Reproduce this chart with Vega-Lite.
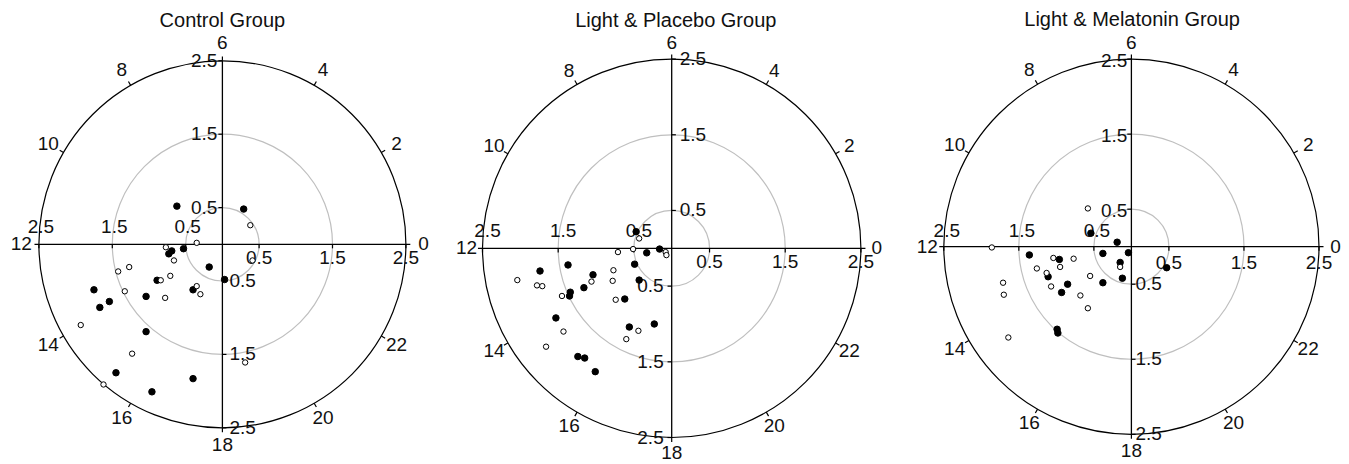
{
"$schema": "https://vega.github.io/schema/vega-lite/v6.json",
"padding": 0,
"spacing": 0,
"bounds": "flush",
"background": "white",
"config": {"view": {"stroke": null}, "text": {"font": "Liberation Sans"}},
"datasets": {
"rings": [{"r": 0.5, "c": "grid"}, {"r": 1.5, "c": "grid"}, {"r": 2.5, "c": "frame"}],
"hrs": [{"hour": 0}, {"hour": 2}, {"hour": 4}, {"hour": 6}, {"hour": 8}, {"hour": 10}, {"hour": 12}, {"hour": 14}, {"hour": 16}, {"hour": 18}, {"hour": 20}, {"hour": 22}],
"rpos": [{"v": 0.5}, {"v": 1.5}, {"v": 2.5}],
"rneg": [{"v": -0.5}, {"v": -1.5}, {"v": -2.5}],
"one": [{"n": 1}],
"pts": [
{"g": "C", "s": "filled", "x": -0.62, "y": 0.52},
{"g": "C", "s": "filled", "x": 0.29, "y": 0.48},
{"g": "C", "s": "filled", "x": -0.69, "y": -0.09},
{"g": "C", "s": "filled", "x": -0.73, "y": -0.13},
{"g": "C", "s": "filled", "x": -0.53, "y": -0.06},
{"g": "C", "s": "filled", "x": -0.18, "y": -0.31},
{"g": "C", "s": "filled", "x": 0.03, "y": -0.48},
{"g": "C", "s": "filled", "x": -0.89, "y": -0.49},
{"g": "C", "s": "filled", "x": -0.40, "y": -0.62},
{"g": "C", "s": "filled", "x": -1.75, "y": -0.62},
{"g": "C", "s": "filled", "x": -1.54, "y": -0.78},
{"g": "C", "s": "filled", "x": -1.67, "y": -0.86},
{"g": "C", "s": "filled", "x": -1.04, "y": -0.71},
{"g": "C", "s": "filled", "x": -1.04, "y": -1.19},
{"g": "C", "s": "filled", "x": -1.45, "y": -1.75},
{"g": "C", "s": "filled", "x": -0.40, "y": -1.83},
{"g": "C", "s": "filled", "x": -0.96, "y": -2.01},
{"g": "C", "s": "open", "x": 0.38, "y": 0.26},
{"g": "C", "s": "open", "x": -0.35, "y": 0.02},
{"g": "C", "s": "open", "x": -0.77, "y": -0.04},
{"g": "C", "s": "open", "x": -0.66, "y": -0.22},
{"g": "C", "s": "open", "x": 0.41, "y": -0.22},
{"g": "C", "s": "open", "x": -1.27, "y": -0.31},
{"g": "C", "s": "open", "x": -1.42, "y": -0.37},
{"g": "C", "s": "open", "x": -0.71, "y": -0.43},
{"g": "C", "s": "open", "x": -0.84, "y": -0.49},
{"g": "C", "s": "open", "x": -0.35, "y": -0.57},
{"g": "C", "s": "open", "x": -0.30, "y": -0.68},
{"g": "C", "s": "open", "x": -1.33, "y": -0.64},
{"g": "C", "s": "open", "x": -0.78, "y": -0.73},
{"g": "C", "s": "open", "x": -1.93, "y": -1.10},
{"g": "C", "s": "open", "x": -1.23, "y": -1.49},
{"g": "C", "s": "open", "x": 0.31, "y": -1.61},
{"g": "C", "s": "open", "x": -1.62, "y": -1.91},
{"g": "P", "s": "filled", "x": -0.47, "y": 0.22},
{"g": "P", "s": "filled", "x": -0.33, "y": -0.06},
{"g": "P", "s": "filled", "x": -0.16, "y": -0.01},
{"g": "P", "s": "filled", "x": -0.49, "y": -0.21},
{"g": "P", "s": "filled", "x": -0.43, "y": -0.42},
{"g": "P", "s": "filled", "x": -0.62, "y": -0.67},
{"g": "P", "s": "filled", "x": -1.37, "y": -0.22},
{"g": "P", "s": "filled", "x": -1.74, "y": -0.30},
{"g": "P", "s": "filled", "x": -1.04, "y": -0.35},
{"g": "P", "s": "filled", "x": -1.16, "y": -0.52},
{"g": "P", "s": "filled", "x": -1.34, "y": -0.58},
{"g": "P", "s": "filled", "x": -1.35, "y": -0.63},
{"g": "P", "s": "filled", "x": -1.53, "y": -0.92},
{"g": "P", "s": "filled", "x": -0.56, "y": -1.04},
{"g": "P", "s": "filled", "x": -0.23, "y": -1.00},
{"g": "P", "s": "filled", "x": -1.24, "y": -1.43},
{"g": "P", "s": "filled", "x": -1.15, "y": -1.45},
{"g": "P", "s": "filled", "x": -1.01, "y": -1.63},
{"g": "P", "s": "open", "x": -0.43, "y": 0.13},
{"g": "P", "s": "open", "x": -0.71, "y": -0.05},
{"g": "P", "s": "open", "x": -0.51, "y": -0.01},
{"g": "P", "s": "open", "x": -0.08, "y": -0.05},
{"g": "P", "s": "open", "x": -0.07, "y": -0.09},
{"g": "P", "s": "open", "x": -0.77, "y": -0.29},
{"g": "P", "s": "open", "x": -0.78, "y": -0.43},
{"g": "P", "s": "open", "x": -0.74, "y": -0.68},
{"g": "P", "s": "open", "x": -2.04, "y": -0.42},
{"g": "P", "s": "open", "x": -1.78, "y": -0.49},
{"g": "P", "s": "open", "x": -1.71, "y": -0.50},
{"g": "P", "s": "open", "x": -1.06, "y": -0.44},
{"g": "P", "s": "open", "x": -1.45, "y": -0.63},
{"g": "P", "s": "open", "x": -1.43, "y": -1.10},
{"g": "P", "s": "open", "x": -1.66, "y": -1.30},
{"g": "P", "s": "open", "x": -0.44, "y": -1.09},
{"g": "P", "s": "open", "x": -0.60, "y": -1.20},
{"g": "M", "s": "filled", "x": -0.54, "y": 0.18},
{"g": "M", "s": "filled", "x": -0.19, "y": 0.06},
{"g": "M", "s": "filled", "x": -1.36, "y": -0.11},
{"g": "M", "s": "filled", "x": -0.96, "y": -0.17},
{"g": "M", "s": "filled", "x": -0.38, "y": -0.09},
{"g": "M", "s": "filled", "x": -0.04, "y": -0.08},
{"g": "M", "s": "filled", "x": -1.11, "y": -0.40},
{"g": "M", "s": "filled", "x": -0.15, "y": -0.21},
{"g": "M", "s": "filled", "x": 0.47, "y": -0.28},
{"g": "M", "s": "filled", "x": -0.12, "y": -0.42},
{"g": "M", "s": "filled", "x": -0.38, "y": -0.48},
{"g": "M", "s": "filled", "x": -0.85, "y": -0.50},
{"g": "M", "s": "filled", "x": -0.93, "y": -0.61},
{"g": "M", "s": "filled", "x": -0.99, "y": -1.10},
{"g": "M", "s": "filled", "x": -0.98, "y": -1.15},
{"g": "M", "s": "open", "x": -0.58, "y": 0.51},
{"g": "M", "s": "open", "x": -1.86, "y": -0.01},
{"g": "M", "s": "open", "x": -1.04, "y": -0.15},
{"g": "M", "s": "open", "x": -0.77, "y": -0.16},
{"g": "M", "s": "open", "x": -0.95, "y": -0.27},
{"g": "M", "s": "open", "x": -1.26, "y": -0.29},
{"g": "M", "s": "open", "x": -1.13, "y": -0.35},
{"g": "M", "s": "open", "x": -0.15, "y": -0.27},
{"g": "M", "s": "open", "x": -0.55, "y": -0.39},
{"g": "M", "s": "open", "x": -1.71, "y": -0.48},
{"g": "M", "s": "open", "x": -1.07, "y": -0.53},
{"g": "M", "s": "open", "x": -1.70, "y": -0.64},
{"g": "M", "s": "open", "x": -0.68, "y": -0.65},
{"g": "M", "s": "open", "x": -0.58, "y": -0.82},
{"g": "M", "s": "open", "x": -1.64, "y": -1.21}
]
},
"hconcat": [
{
"width": 447, "height": 464,
"layer": [
{"data": {"name": "rings"}, "mark": {"type": "arc", "filled": false, "strokeWidth": 1.2, "theta": 0, "theta2": 6.2832},
 "encoding": {"x": {"datum": 0, "type": "quantitative", "scale": {"domain": [-3.03, 3.0599], "nice": false, "zero": false}, "axis": null},
  "y": {"datum": 0, "type": "quantitative", "scale": {"domain": [-2.9932, 3.3283], "nice": false, "zero": false}, "axis": null},
  "radius": {"field": "r", "type": "quantitative", "stack": null, "scale": {"type": "linear", "domain": [0, 2.5], "range": [0, 183.5], "nice": false}},
  "stroke": {"field": "c", "type": "nominal", "scale": {"domain": ["grid", "frame"], "range": ["#bfbfbf", "#000000"]}, "legend": null}}},
{"data": {"name": "one"}, "mark": {"type": "rule", "color": "#000", "strokeWidth": 1.3},
 "encoding": {"x": {"datum": -2.5, "type": "quantitative", "scale": {"domain": [-3.03, 3.0599], "nice": false, "zero": false}, "axis": null}, "x2": {"datum": 2.5},
  "y": {"datum": 0, "type": "quantitative", "scale": {"domain": [-2.9932, 3.3283], "nice": false, "zero": false}, "axis": null}}},
{"data": {"name": "one"}, "mark": {"type": "rule", "color": "#000", "strokeWidth": 1.3},
 "encoding": {"y": {"datum": -2.5, "type": "quantitative", "scale": {"domain": [-2.9932, 3.3283], "nice": false, "zero": false}, "axis": null}, "y2": {"datum": 2.5},
  "x": {"datum": 0, "type": "quantitative", "scale": {"domain": [-3.03, 3.0599], "nice": false, "zero": false}, "axis": null}}},
{"data": {"name": "hrs"}, "mark": {"type": "arc", "filled": false, "stroke": "#000", "strokeWidth": 1.2},
 "encoding": {"x": {"datum": 0, "type": "quantitative", "scale": {"domain": [-3.03, 3.0599], "nice": false, "zero": false}, "axis": null},
  "y": {"datum": 0, "type": "quantitative", "scale": {"domain": [-2.9932, 3.3283], "nice": false, "zero": false}, "axis": null},
  "theta": {"field": "hour", "type": "quantitative", "stack": null, "scale": {"type": "linear", "domain": [0, 24], "range": [1.5708, -4.7124], "zero": false, "nice": false}},
  "theta2": {"field": "hour"},
  "radius": {"datum": 2.5, "type": "quantitative", "scale": {"type": "linear", "domain": [0, 2.5], "range": [0, 183.5], "nice": false}},
  "radius2": {"datum": 2.56}}},
{"data": {"name": "rpos"}, "mark": {"type": "rule", "color": "#000", "strokeWidth": 1.2},
 "encoding": {"y": {"field": "v", "type": "quantitative", "scale": {"domain": [-2.9932, 3.3283], "nice": false, "zero": false}, "axis": null},
  "x": {"datum": -0.055, "type": "quantitative", "scale": {"domain": [-3.03, 3.0599], "nice": false, "zero": false}, "axis": null}, "x2": {"datum": 0}}},
{"data": {"name": "rneg"}, "mark": {"type": "rule", "color": "#000", "strokeWidth": 1.2},
 "encoding": {"y": {"field": "v", "type": "quantitative", "scale": {"domain": [-2.9932, 3.3283], "nice": false, "zero": false}, "axis": null},
  "x": {"datum": 0, "type": "quantitative", "scale": {"domain": [-3.03, 3.0599], "nice": false, "zero": false}, "axis": null}, "x2": {"datum": 0.055}}},
{"data": {"name": "rpos"}, "mark": {"type": "rule", "color": "#000", "strokeWidth": 1.2},
 "encoding": {"x": {"field": "v", "type": "quantitative", "scale": {"domain": [-3.03, 3.0599], "nice": false, "zero": false}, "axis": null},
  "y": {"datum": 0, "type": "quantitative", "scale": {"domain": [-2.9932, 3.3283], "nice": false, "zero": false}, "axis": null}, "y2": {"datum": -0.055}}},
{"data": {"name": "rneg"}, "mark": {"type": "rule", "color": "#000", "strokeWidth": 1.2},
 "encoding": {"x": {"field": "v", "type": "quantitative", "scale": {"domain": [-3.03, 3.0599], "nice": false, "zero": false}, "axis": null},
  "y": {"datum": 0, "type": "quantitative", "scale": {"domain": [-2.9932, 3.3283], "nice": false, "zero": false}, "axis": null}, "y2": {"datum": -0.055}}},
{"data": {"name": "hrs"}, "mark": {"type": "text", "fontSize": 19, "align": "center", "baseline": "middle", "color": "#111"},
 "encoding": {"x": {"datum": 0, "type": "quantitative", "scale": {"domain": [-3.03, 3.0599], "nice": false, "zero": false}, "axis": null},
  "y": {"datum": 0, "type": "quantitative", "scale": {"domain": [-2.9932, 3.3283], "nice": false, "zero": false}, "axis": null},
  "theta": {"field": "hour", "type": "quantitative", "stack": null, "scale": {"type": "linear", "domain": [0, 24], "range": [1.5708, -4.7124], "zero": false, "nice": false}},
  "radius": {"datum": 2.74, "type": "quantitative", "scale": {"type": "linear", "domain": [0, 2.5], "range": [0, 183.5], "nice": false}},
  "text": {"field": "hour", "type": "quantitative", "format": "d"}}},
{"data": {"name": "rpos"}, "mark": {"type": "text", "fontSize": 19, "align": "right", "baseline": "middle", "dx": -5, "color": "#111"},
 "encoding": {"x": {"datum": 0, "type": "quantitative", "scale": {"domain": [-3.03, 3.0599], "nice": false, "zero": false}, "axis": null},
  "y": {"datum": 0, "type": "quantitative", "scale": {"domain": [-2.9932, 3.3283], "nice": false, "zero": false}, "axis": null},
  "theta": {"datum": 6, "type": "quantitative", "scale": {"type": "linear", "domain": [0, 24], "range": [1.5708, -4.7124], "zero": false, "nice": false}},
  "radius": {"field": "v", "type": "quantitative", "stack": null, "scale": {"type": "linear", "domain": [0, 2.5], "range": [0, 183.5], "nice": false}},
  "text": {"field": "v", "type": "quantitative", "format": ".1f"}}},
{"data": {"name": "rpos"}, "mark": {"type": "text", "fontSize": 19, "align": "center", "baseline": "top", "dy": 5, "color": "#111"},
 "encoding": {"x": {"datum": 0, "type": "quantitative", "scale": {"domain": [-3.03, 3.0599], "nice": false, "zero": false}, "axis": null},
  "y": {"datum": 0, "type": "quantitative", "scale": {"domain": [-2.9932, 3.3283], "nice": false, "zero": false}, "axis": null},
  "theta": {"datum": 0, "type": "quantitative", "scale": {"type": "linear", "domain": [0, 24], "range": [1.5708, -4.7124], "zero": false, "nice": false}},
  "radius": {"field": "v", "type": "quantitative", "stack": null, "scale": {"type": "linear", "domain": [0, 2.5], "range": [0, 183.5], "nice": false}},
  "text": {"field": "v", "type": "quantitative", "format": ".1f"}}},
{"data": {"name": "rpos"}, "mark": {"type": "text", "fontSize": 19, "align": "center", "baseline": "bottom", "dy": -7, "dx": 2, "color": "#111"},
 "encoding": {"x": {"datum": 0, "type": "quantitative", "scale": {"domain": [-3.03, 3.0599], "nice": false, "zero": false}, "axis": null},
  "y": {"datum": 0, "type": "quantitative", "scale": {"domain": [-2.9932, 3.3283], "nice": false, "zero": false}, "axis": null},
  "theta": {"datum": 12, "type": "quantitative", "scale": {"type": "linear", "domain": [0, 24], "range": [1.5708, -4.7124], "zero": false, "nice": false}},
  "radius": {"field": "v", "type": "quantitative", "stack": null, "scale": {"type": "linear", "domain": [0, 2.5], "range": [0, 183.5], "nice": false}},
  "text": {"field": "v", "type": "quantitative", "format": ".1f"}}},
{"data": {"name": "rpos"}, "mark": {"type": "text", "fontSize": 19, "align": "left", "baseline": "middle", "dx": 7, "color": "#111"},
 "encoding": {"x": {"datum": 0, "type": "quantitative", "scale": {"domain": [-3.03, 3.0599], "nice": false, "zero": false}, "axis": null},
  "y": {"datum": 0, "type": "quantitative", "scale": {"domain": [-2.9932, 3.3283], "nice": false, "zero": false}, "axis": null},
  "theta": {"datum": 18, "type": "quantitative", "scale": {"type": "linear", "domain": [0, 24], "range": [1.5708, -4.7124], "zero": false, "nice": false}},
  "radius": {"field": "v", "type": "quantitative", "stack": null, "scale": {"type": "linear", "domain": [0, 2.5], "range": [0, 183.5], "nice": false}},
  "text": {"field": "v", "type": "quantitative", "format": ".1f"}}},
{"data": {"name": "pts"}, "transform": [{"filter": "datum.g === 'C'"}],
 "mark": {"type": "point", "shape": "circle", "filled": true, "stroke": "#000", "strokeWidth": 1, "opacity": 1},
 "encoding": {"x": {"field": "x", "type": "quantitative", "scale": {"domain": [-3.03, 3.0599], "nice": false, "zero": false}, "axis": null},
  "y": {"field": "y", "type": "quantitative", "scale": {"domain": [-2.9932, 3.3283], "nice": false, "zero": false}, "axis": null},
  "fill": {"field": "s", "type": "nominal", "scale": {"domain": ["filled", "open"], "range": ["#000000", "#ffffff"]}, "legend": null},
  "size": {"field": "s", "type": "ordinal", "scale": {"domain": ["filled", "open"], "range": [42, 29]}, "legend": null}}},
{"data": {"name": "one"}, "mark": {"type": "text", "fontSize": 20, "align": "center", "baseline": "alphabetic", "color": "#111"},
 "encoding": {"x": {"datum": 0, "type": "quantitative", "scale": {"domain": [-3.03, 3.0599], "nice": false, "zero": false}, "axis": null},
  "y": {"datum": 2.965, "type": "quantitative", "scale": {"domain": [-2.9932, 3.3283], "nice": false, "zero": false}, "axis": null},
  "text": {"value": "Control Group"}}}
]
},
{
"width": 456, "height": 464,
"layer": [
{"data": {"name": "rings"}, "mark": {"type": "arc", "filled": false, "strokeWidth": 1.2, "theta": 0, "theta2": 6.2832},
 "encoding": {"x": {"datum": 0, "type": "quantitative", "scale": {"domain": [-2.9691, 3.0563], "nice": false, "zero": false}, "axis": null},
  "y": {"datum": 0, "type": "quantitative", "scale": {"domain": [-2.8501, 3.2809], "nice": false, "zero": false}, "axis": null},
  "radius": {"field": "r", "type": "quantitative", "stack": null, "scale": {"type": "linear", "domain": [0, 2.5], "range": [0, 189.2], "nice": false}},
  "stroke": {"field": "c", "type": "nominal", "scale": {"domain": ["grid", "frame"], "range": ["#bfbfbf", "#000000"]}, "legend": null}}},
{"data": {"name": "one"}, "mark": {"type": "rule", "color": "#000", "strokeWidth": 1.3},
 "encoding": {"x": {"datum": -2.5, "type": "quantitative", "scale": {"domain": [-2.9691, 3.0563], "nice": false, "zero": false}, "axis": null}, "x2": {"datum": 2.5},
  "y": {"datum": 0, "type": "quantitative", "scale": {"domain": [-2.8501, 3.2809], "nice": false, "zero": false}, "axis": null}}},
{"data": {"name": "one"}, "mark": {"type": "rule", "color": "#000", "strokeWidth": 1.3},
 "encoding": {"y": {"datum": -2.5, "type": "quantitative", "scale": {"domain": [-2.8501, 3.2809], "nice": false, "zero": false}, "axis": null}, "y2": {"datum": 2.5},
  "x": {"datum": 0, "type": "quantitative", "scale": {"domain": [-2.9691, 3.0563], "nice": false, "zero": false}, "axis": null}}},
{"data": {"name": "hrs"}, "mark": {"type": "arc", "filled": false, "stroke": "#000", "strokeWidth": 1.2},
 "encoding": {"x": {"datum": 0, "type": "quantitative", "scale": {"domain": [-2.9691, 3.0563], "nice": false, "zero": false}, "axis": null},
  "y": {"datum": 0, "type": "quantitative", "scale": {"domain": [-2.8501, 3.2809], "nice": false, "zero": false}, "axis": null},
  "theta": {"field": "hour", "type": "quantitative", "stack": null, "scale": {"type": "linear", "domain": [0, 24], "range": [1.5708, -4.7124], "zero": false, "nice": false}},
  "theta2": {"field": "hour"},
  "radius": {"datum": 2.5, "type": "quantitative", "scale": {"type": "linear", "domain": [0, 2.5], "range": [0, 189.2], "nice": false}},
  "radius2": {"datum": 2.56}}},
{"data": {"name": "rpos"}, "mark": {"type": "rule", "color": "#000", "strokeWidth": 1.2},
 "encoding": {"y": {"field": "v", "type": "quantitative", "scale": {"domain": [-2.8501, 3.2809], "nice": false, "zero": false}, "axis": null},
  "x": {"datum": 0, "type": "quantitative", "scale": {"domain": [-2.9691, 3.0563], "nice": false, "zero": false}, "axis": null}, "x2": {"datum": 0.055}}},
{"data": {"name": "rneg"}, "mark": {"type": "rule", "color": "#000", "strokeWidth": 1.2},
 "encoding": {"y": {"field": "v", "type": "quantitative", "scale": {"domain": [-2.8501, 3.2809], "nice": false, "zero": false}, "axis": null},
  "x": {"datum": -0.055, "type": "quantitative", "scale": {"domain": [-2.9691, 3.0563], "nice": false, "zero": false}, "axis": null}, "x2": {"datum": 0}}},
{"data": {"name": "rpos"}, "mark": {"type": "rule", "color": "#000", "strokeWidth": 1.2},
 "encoding": {"x": {"field": "v", "type": "quantitative", "scale": {"domain": [-2.9691, 3.0563], "nice": false, "zero": false}, "axis": null},
  "y": {"datum": 0, "type": "quantitative", "scale": {"domain": [-2.8501, 3.2809], "nice": false, "zero": false}, "axis": null}, "y2": {"datum": -0.055}}},
{"data": {"name": "rneg"}, "mark": {"type": "rule", "color": "#000", "strokeWidth": 1.2},
 "encoding": {"x": {"field": "v", "type": "quantitative", "scale": {"domain": [-2.9691, 3.0563], "nice": false, "zero": false}, "axis": null},
  "y": {"datum": 0, "type": "quantitative", "scale": {"domain": [-2.8501, 3.2809], "nice": false, "zero": false}, "axis": null}, "y2": {"datum": -0.055}}},
{"data": {"name": "hrs"}, "mark": {"type": "text", "fontSize": 19, "align": "center", "baseline": "middle", "color": "#111"},
 "encoding": {"x": {"datum": 0, "type": "quantitative", "scale": {"domain": [-2.9691, 3.0563], "nice": false, "zero": false}, "axis": null},
  "y": {"datum": 0, "type": "quantitative", "scale": {"domain": [-2.8501, 3.2809], "nice": false, "zero": false}, "axis": null},
  "theta": {"field": "hour", "type": "quantitative", "stack": null, "scale": {"type": "linear", "domain": [0, 24], "range": [1.5708, -4.7124], "zero": false, "nice": false}},
  "radius": {"datum": 2.71, "type": "quantitative", "scale": {"type": "linear", "domain": [0, 2.5], "range": [0, 189.2], "nice": false}},
  "text": {"field": "hour", "type": "quantitative", "format": "d"}}},
{"data": {"name": "rpos"}, "mark": {"type": "text", "fontSize": 19, "align": "left", "baseline": "middle", "dx": 8, "color": "#111"},
 "encoding": {"x": {"datum": 0, "type": "quantitative", "scale": {"domain": [-2.9691, 3.0563], "nice": false, "zero": false}, "axis": null},
  "y": {"datum": 0, "type": "quantitative", "scale": {"domain": [-2.8501, 3.2809], "nice": false, "zero": false}, "axis": null},
  "theta": {"datum": 6, "type": "quantitative", "scale": {"type": "linear", "domain": [0, 24], "range": [1.5708, -4.7124], "zero": false, "nice": false}},
  "radius": {"field": "v", "type": "quantitative", "stack": null, "scale": {"type": "linear", "domain": [0, 2.5], "range": [0, 189.2], "nice": false}},
  "text": {"field": "v", "type": "quantitative", "format": ".1f"}}},
{"data": {"name": "rpos"}, "mark": {"type": "text", "fontSize": 19, "align": "center", "baseline": "top", "dy": 5, "color": "#111"},
 "encoding": {"x": {"datum": 0, "type": "quantitative", "scale": {"domain": [-2.9691, 3.0563], "nice": false, "zero": false}, "axis": null},
  "y": {"datum": 0, "type": "quantitative", "scale": {"domain": [-2.8501, 3.2809], "nice": false, "zero": false}, "axis": null},
  "theta": {"datum": 0, "type": "quantitative", "scale": {"type": "linear", "domain": [0, 24], "range": [1.5708, -4.7124], "zero": false, "nice": false}},
  "radius": {"field": "v", "type": "quantitative", "stack": null, "scale": {"type": "linear", "domain": [0, 2.5], "range": [0, 189.2], "nice": false}},
  "text": {"field": "v", "type": "quantitative", "format": ".1f"}}},
{"data": {"name": "rpos"}, "mark": {"type": "text", "fontSize": 19, "align": "center", "baseline": "bottom", "dy": -7, "dx": 5, "color": "#111"},
 "encoding": {"x": {"datum": 0, "type": "quantitative", "scale": {"domain": [-2.9691, 3.0563], "nice": false, "zero": false}, "axis": null},
  "y": {"datum": 0, "type": "quantitative", "scale": {"domain": [-2.8501, 3.2809], "nice": false, "zero": false}, "axis": null},
  "theta": {"datum": 12, "type": "quantitative", "scale": {"type": "linear", "domain": [0, 24], "range": [1.5708, -4.7124], "zero": false, "nice": false}},
  "radius": {"field": "v", "type": "quantitative", "stack": null, "scale": {"type": "linear", "domain": [0, 2.5], "range": [0, 189.2], "nice": false}},
  "text": {"field": "v", "type": "quantitative", "format": ".1f"}}},
{"data": {"name": "rpos"}, "mark": {"type": "text", "fontSize": 19, "align": "right", "baseline": "middle", "dx": -8, "color": "#111"},
 "encoding": {"x": {"datum": 0, "type": "quantitative", "scale": {"domain": [-2.9691, 3.0563], "nice": false, "zero": false}, "axis": null},
  "y": {"datum": 0, "type": "quantitative", "scale": {"domain": [-2.8501, 3.2809], "nice": false, "zero": false}, "axis": null},
  "theta": {"datum": 18, "type": "quantitative", "scale": {"type": "linear", "domain": [0, 24], "range": [1.5708, -4.7124], "zero": false, "nice": false}},
  "radius": {"field": "v", "type": "quantitative", "stack": null, "scale": {"type": "linear", "domain": [0, 2.5], "range": [0, 189.2], "nice": false}},
  "text": {"field": "v", "type": "quantitative", "format": ".1f"}}},
{"data": {"name": "pts"}, "transform": [{"filter": "datum.g === 'P'"}],
 "mark": {"type": "point", "shape": "circle", "filled": true, "stroke": "#000", "strokeWidth": 1, "opacity": 1},
 "encoding": {"x": {"field": "x", "type": "quantitative", "scale": {"domain": [-2.9691, 3.0563], "nice": false, "zero": false}, "axis": null},
  "y": {"field": "y", "type": "quantitative", "scale": {"domain": [-2.8501, 3.2809], "nice": false, "zero": false}, "axis": null},
  "fill": {"field": "s", "type": "nominal", "scale": {"domain": ["filled", "open"], "range": ["#000000", "#ffffff"]}, "legend": null},
  "size": {"field": "s", "type": "ordinal", "scale": {"domain": ["filled", "open"], "range": [42, 29]}, "legend": null}}},
{"data": {"name": "one"}, "mark": {"type": "text", "fontSize": 20, "align": "center", "baseline": "alphabetic", "color": "#111"},
 "encoding": {"x": {"datum": 0.054, "type": "quantitative", "scale": {"domain": [-2.9691, 3.0563], "nice": false, "zero": false}, "axis": null},
  "y": {"datum": 2.928, "type": "quantitative", "scale": {"domain": [-2.8501, 3.2809], "nice": false, "zero": false}, "axis": null},
  "text": {"value": "Light & Placebo Group"}}}
]
},
{
"width": 446, "height": 464,
"layer": [
{"data": {"name": "rings"}, "mark": {"type": "arc", "filled": false, "strokeWidth": 1.2, "theta": 0, "theta2": 6.2832},
 "encoding": {"x": {"datum": 0, "type": "quantitative", "scale": {"domain": [-3.0437, 2.8998], "nice": false, "zero": false}, "axis": null},
  "y": {"datum": 0, "type": "quantitative", "scale": {"domain": [-2.8958, 3.2876], "nice": false, "zero": false}, "axis": null},
  "radius": {"field": "r", "type": "quantitative", "stack": null, "scale": {"type": "linear", "domain": [0, 2.5], "range": [0, 187.6], "nice": false}},
  "stroke": {"field": "c", "type": "nominal", "scale": {"domain": ["grid", "frame"], "range": ["#bfbfbf", "#000000"]}, "legend": null}}},
{"data": {"name": "one"}, "mark": {"type": "rule", "color": "#000", "strokeWidth": 1.3},
 "encoding": {"x": {"datum": -2.5, "type": "quantitative", "scale": {"domain": [-3.0437, 2.8998], "nice": false, "zero": false}, "axis": null}, "x2": {"datum": 2.5},
  "y": {"datum": 0, "type": "quantitative", "scale": {"domain": [-2.8958, 3.2876], "nice": false, "zero": false}, "axis": null}}},
{"data": {"name": "one"}, "mark": {"type": "rule", "color": "#000", "strokeWidth": 1.3},
 "encoding": {"y": {"datum": -2.5, "type": "quantitative", "scale": {"domain": [-2.8958, 3.2876], "nice": false, "zero": false}, "axis": null}, "y2": {"datum": 2.5},
  "x": {"datum": 0, "type": "quantitative", "scale": {"domain": [-3.0437, 2.8998], "nice": false, "zero": false}, "axis": null}}},
{"data": {"name": "hrs"}, "mark": {"type": "arc", "filled": false, "stroke": "#000", "strokeWidth": 1.2},
 "encoding": {"x": {"datum": 0, "type": "quantitative", "scale": {"domain": [-3.0437, 2.8998], "nice": false, "zero": false}, "axis": null},
  "y": {"datum": 0, "type": "quantitative", "scale": {"domain": [-2.8958, 3.2876], "nice": false, "zero": false}, "axis": null},
  "theta": {"field": "hour", "type": "quantitative", "stack": null, "scale": {"type": "linear", "domain": [0, 24], "range": [1.5708, -4.7124], "zero": false, "nice": false}},
  "theta2": {"field": "hour"},
  "radius": {"datum": 2.5, "type": "quantitative", "scale": {"type": "linear", "domain": [0, 2.5], "range": [0, 187.6], "nice": false}},
  "radius2": {"datum": 2.56}}},
{"data": {"name": "rpos"}, "mark": {"type": "rule", "color": "#000", "strokeWidth": 1.2},
 "encoding": {"y": {"field": "v", "type": "quantitative", "scale": {"domain": [-2.8958, 3.2876], "nice": false, "zero": false}, "axis": null},
  "x": {"datum": -0.055, "type": "quantitative", "scale": {"domain": [-3.0437, 2.8998], "nice": false, "zero": false}, "axis": null}, "x2": {"datum": 0}}},
{"data": {"name": "rneg"}, "mark": {"type": "rule", "color": "#000", "strokeWidth": 1.2},
 "encoding": {"y": {"field": "v", "type": "quantitative", "scale": {"domain": [-2.8958, 3.2876], "nice": false, "zero": false}, "axis": null},
  "x": {"datum": 0, "type": "quantitative", "scale": {"domain": [-3.0437, 2.8998], "nice": false, "zero": false}, "axis": null}, "x2": {"datum": 0.055}}},
{"data": {"name": "rpos"}, "mark": {"type": "rule", "color": "#000", "strokeWidth": 1.2},
 "encoding": {"x": {"field": "v", "type": "quantitative", "scale": {"domain": [-3.0437, 2.8998], "nice": false, "zero": false}, "axis": null},
  "y": {"datum": 0, "type": "quantitative", "scale": {"domain": [-2.8958, 3.2876], "nice": false, "zero": false}, "axis": null}, "y2": {"datum": -0.055}}},
{"data": {"name": "rneg"}, "mark": {"type": "rule", "color": "#000", "strokeWidth": 1.2},
 "encoding": {"x": {"field": "v", "type": "quantitative", "scale": {"domain": [-3.0437, 2.8998], "nice": false, "zero": false}, "axis": null},
  "y": {"datum": 0, "type": "quantitative", "scale": {"domain": [-2.8958, 3.2876], "nice": false, "zero": false}, "axis": null}, "y2": {"datum": -0.055}}},
{"data": {"name": "hrs"}, "mark": {"type": "text", "fontSize": 19, "align": "center", "baseline": "middle", "color": "#111"},
 "encoding": {"x": {"datum": 0, "type": "quantitative", "scale": {"domain": [-3.0437, 2.8998], "nice": false, "zero": false}, "axis": null},
  "y": {"datum": 0, "type": "quantitative", "scale": {"domain": [-2.8958, 3.2876], "nice": false, "zero": false}, "axis": null},
  "theta": {"field": "hour", "type": "quantitative", "stack": null, "scale": {"type": "linear", "domain": [0, 24], "range": [1.5708, -4.7124], "zero": false, "nice": false}},
  "radius": {"datum": 2.72, "type": "quantitative", "scale": {"type": "linear", "domain": [0, 2.5], "range": [0, 187.6], "nice": false}},
  "text": {"field": "hour", "type": "quantitative", "format": "d"}}},
{"data": {"name": "rpos"}, "mark": {"type": "text", "fontSize": 19, "align": "right", "baseline": "middle", "dx": -4, "dy": 2, "color": "#111"},
 "encoding": {"x": {"datum": 0, "type": "quantitative", "scale": {"domain": [-3.0437, 2.8998], "nice": false, "zero": false}, "axis": null},
  "y": {"datum": 0, "type": "quantitative", "scale": {"domain": [-2.8958, 3.2876], "nice": false, "zero": false}, "axis": null},
  "theta": {"datum": 6, "type": "quantitative", "scale": {"type": "linear", "domain": [0, 24], "range": [1.5708, -4.7124], "zero": false, "nice": false}},
  "radius": {"field": "v", "type": "quantitative", "stack": null, "scale": {"type": "linear", "domain": [0, 2.5], "range": [0, 187.6], "nice": false}},
  "text": {"field": "v", "type": "quantitative", "format": ".1f"}}},
{"data": {"name": "rpos"}, "mark": {"type": "text", "fontSize": 19, "align": "center", "baseline": "top", "dy": 7, "color": "#111"},
 "encoding": {"x": {"datum": 0, "type": "quantitative", "scale": {"domain": [-3.0437, 2.8998], "nice": false, "zero": false}, "axis": null},
  "y": {"datum": 0, "type": "quantitative", "scale": {"domain": [-2.8958, 3.2876], "nice": false, "zero": false}, "axis": null},
  "theta": {"datum": 0, "type": "quantitative", "scale": {"type": "linear", "domain": [0, 24], "range": [1.5708, -4.7124], "zero": false, "nice": false}},
  "radius": {"field": "v", "type": "quantitative", "stack": null, "scale": {"type": "linear", "domain": [0, 2.5], "range": [0, 187.6], "nice": false}},
  "text": {"field": "v", "type": "quantitative", "format": ".1f"}}},
{"data": {"name": "rpos"}, "mark": {"type": "text", "fontSize": 19, "align": "center", "baseline": "bottom", "dy": -6, "dx": 3, "color": "#111"},
 "encoding": {"x": {"datum": 0, "type": "quantitative", "scale": {"domain": [-3.0437, 2.8998], "nice": false, "zero": false}, "axis": null},
  "y": {"datum": 0, "type": "quantitative", "scale": {"domain": [-2.8958, 3.2876], "nice": false, "zero": false}, "axis": null},
  "theta": {"datum": 12, "type": "quantitative", "scale": {"type": "linear", "domain": [0, 24], "range": [1.5708, -4.7124], "zero": false, "nice": false}},
  "radius": {"field": "v", "type": "quantitative", "stack": null, "scale": {"type": "linear", "domain": [0, 2.5], "range": [0, 187.6], "nice": false}},
  "text": {"field": "v", "type": "quantitative", "format": ".1f"}}},
{"data": {"name": "rpos"}, "mark": {"type": "text", "fontSize": 19, "align": "left", "baseline": "middle", "dx": 4, "color": "#111"},
 "encoding": {"x": {"datum": 0, "type": "quantitative", "scale": {"domain": [-3.0437, 2.8998], "nice": false, "zero": false}, "axis": null},
  "y": {"datum": 0, "type": "quantitative", "scale": {"domain": [-2.8958, 3.2876], "nice": false, "zero": false}, "axis": null},
  "theta": {"datum": 18, "type": "quantitative", "scale": {"type": "linear", "domain": [0, 24], "range": [1.5708, -4.7124], "zero": false, "nice": false}},
  "radius": {"field": "v", "type": "quantitative", "stack": null, "scale": {"type": "linear", "domain": [0, 2.5], "range": [0, 187.6], "nice": false}},
  "text": {"field": "v", "type": "quantitative", "format": ".1f"}}},
{"data": {"name": "pts"}, "transform": [{"filter": "datum.g === 'M'"}],
 "mark": {"type": "point", "shape": "circle", "filled": true, "stroke": "#000", "strokeWidth": 1, "opacity": 1},
 "encoding": {"x": {"field": "x", "type": "quantitative", "scale": {"domain": [-3.0437, 2.8998], "nice": false, "zero": false}, "axis": null},
  "y": {"field": "y", "type": "quantitative", "scale": {"domain": [-2.8958, 3.2876], "nice": false, "zero": false}, "axis": null},
  "fill": {"field": "s", "type": "nominal", "scale": {"domain": ["filled", "open"], "range": ["#000000", "#ffffff"]}, "legend": null},
  "size": {"field": "s", "type": "ordinal", "scale": {"domain": ["filled", "open"], "range": [42, 29]}, "legend": null}}},
{"data": {"name": "one"}, "mark": {"type": "text", "fontSize": 20, "align": "center", "baseline": "alphabetic", "color": "#111"},
 "encoding": {"x": {"datum": 0.01, "type": "quantitative", "scale": {"domain": [-3.0437, 2.8998], "nice": false, "zero": false}, "axis": null},
  "y": {"datum": 2.941, "type": "quantitative", "scale": {"domain": [-2.8958, 3.2876], "nice": false, "zero": false}, "axis": null},
  "text": {"value": "Light & Melatonin Group"}}}
]
}
]
}
